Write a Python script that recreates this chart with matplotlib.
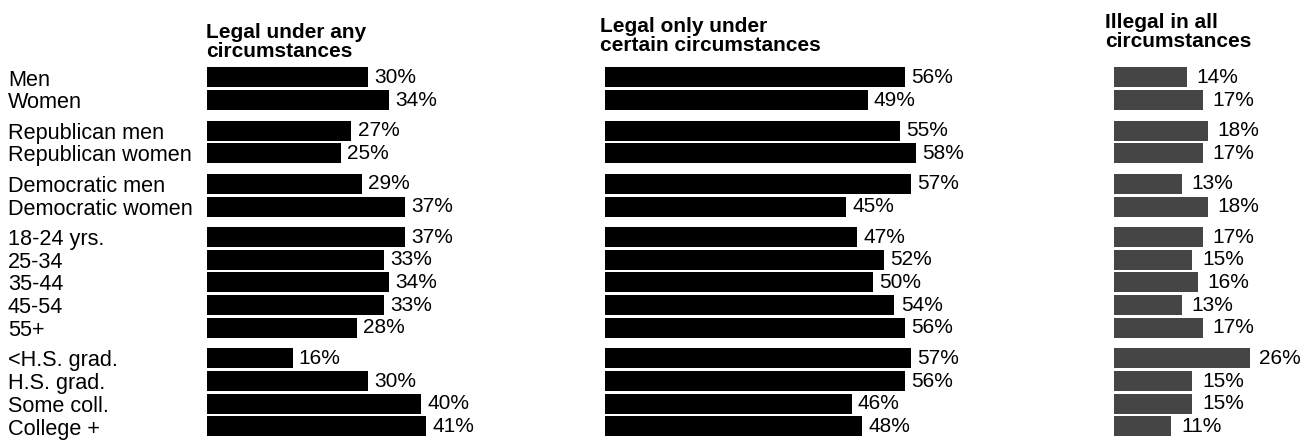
import matplotlib.pyplot as plt
import numpy as np

CATEGORIES = [
    "Men", "Women",
    "Republican men", "Republican women",
    "Democratic men", "Democratic women",
    "18-24 yrs.", "25-34", "35-44", "45-54", "55+",
    "<H.S. grad.", "H.S. grad.", "Some coll.", "College +",
]
GROUP_SIZES = [2, 2, 2, 5, 4]

LEGAL_ANY = [30, 34, 27, 25, 29, 37, 37, 33, 34, 33, 28, 16, 30, 40, 41]
LEGAL_CERTAIN = [56, 49, 55, 58, 57, 45, 47, 52, 50, 54, 56, 57, 56, 46, 48]
ILLEGAL_ALL = [14, 17, 18, 17, 13, 18, 17, 15, 16, 13, 17, 26, 15, 15, 11]

TITLES = [
    "Legal under any\ncircumstances",
    "Legal only under\ncertain circumstances",
    "Illegal in all\ncircumstances",
]

# layout in pixels (figure is 1309 x 440 at dpi 100)
W, H = 1309, 440
FIRST_ROW = 77.5
ROW_STEP = 22.7
GROUP_GAP = 7.8
BAR_HEIGHT = 20.0
FONT = "Liberation Sans"
FS = 15

plt.rcParams["font.family"] = [FONT, "DejaVu Sans"]

# panel: (bar start px, px per percent, title x px, title last baseline px, colour, label gap pt)
PANELS = [
    (207, 5.35, 206, 57, "black", 4.5),
    (605, 5.36, 600, 51, "black", 4.5),
    (1114, 5.22, 1105, 47, "#454545", 7.0),
]
SERIES = [LEGAL_ANY, LEGAL_CERTAIN, ILLEGAL_ALL]

group_idx = np.repeat(np.arange(len(GROUP_SIZES)), GROUP_SIZES)
rows = FIRST_ROW + np.arange(len(CATEGORIES)) * ROW_STEP + group_idx * GROUP_GAP

fig = plt.figure(figsize=(W / 100, H / 100), dpi=100)

for label, y in zip(CATEGORIES, rows):
    fig.text(8 / W, 1 - (y + 2.5) / H, label, fontsize=15.6, va="center", ha="left")

for (x0, scale, tx, ty, color, gap), values, title in zip(PANELS, SERIES, TITLES):
    width_px = 330
    ax = fig.add_axes([x0 / W, 0, width_px / W, 1])
    ax.set_xlim(0, width_px / scale)
    ax.set_ylim(H, 0)
    ax.axis("off")
    ax.barh(rows, values, height=BAR_HEIGHT, color=color, edgecolor="none")
    for v, y in zip(values, rows):
        ax.annotate(f"{v}%", xy=(v, y), xytext=(gap, 0), textcoords="offset points",
                    fontsize=FS, va="center", ha="left", annotation_clip=False)
    fig.text(tx / W, 1 - ty / H, title, fontsize=FS, fontweight="bold",
             va="baseline", ha="left", linespacing=1.0)

fig.savefig("out.png", dpi=100)
